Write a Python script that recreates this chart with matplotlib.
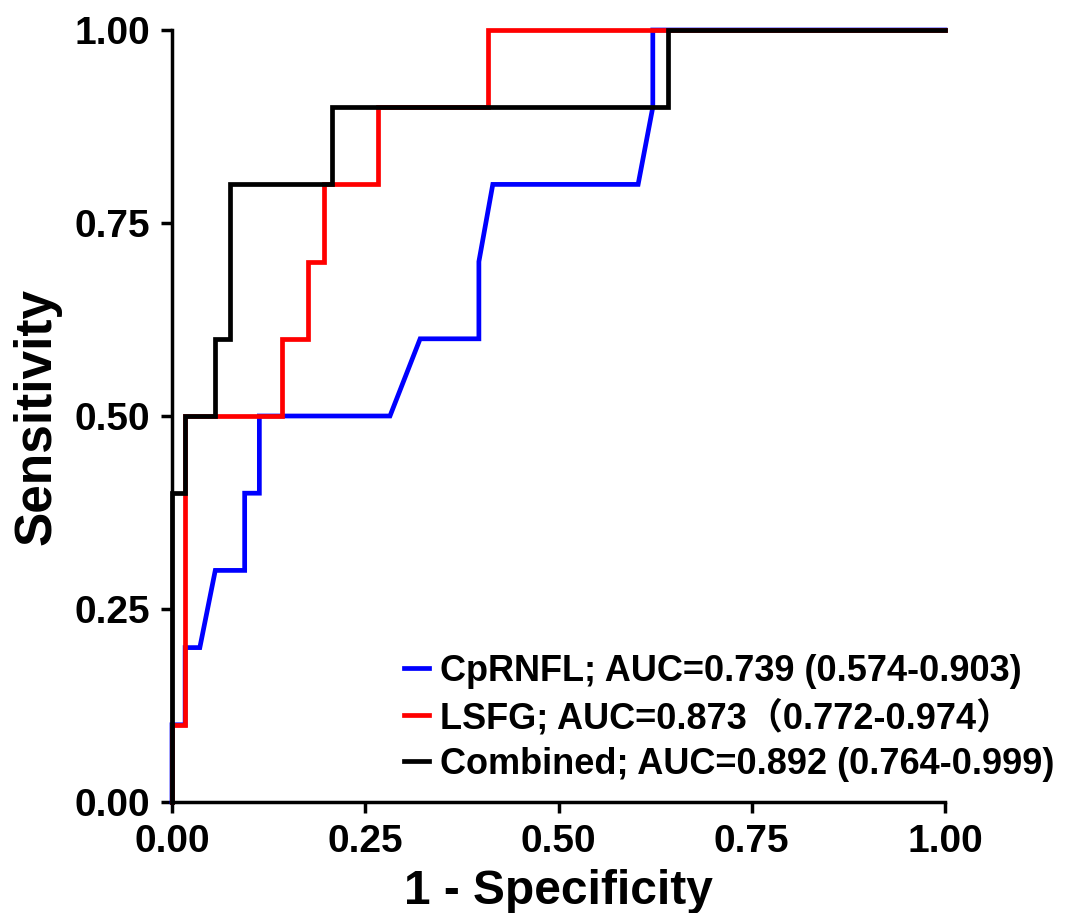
import matplotlib
matplotlib.use("Agg")
import matplotlib.pyplot as plt

plt.rcParams['font.family'] = ['Liberation Sans', 'Noto Sans CJK SC', 'DejaVu Sans']
plt.rcParams['font.weight'] = 'bold'

# ROC curve points (1 - specificity, sensitivity)
cprnfl_fpr = [0, 0, 0.017, 0.017, 0.036, 0.056, 0.094, 0.094, 0.113, 0.113,
              0.282, 0.321, 0.397, 0.397, 0.415, 0.603, 0.622, 0.622, 1.0]
cprnfl_tpr = [0, 0.1, 0.1, 0.2, 0.2, 0.3, 0.3, 0.4, 0.4, 0.5,
              0.5, 0.6, 0.6, 0.7, 0.8, 0.8, 0.9, 1.0, 1.0]

lsfg_fpr = [0, 0, 0.017, 0.017, 0.142, 0.142, 0.176, 0.176, 0.196, 0.196,
            0.267, 0.267, 0.409, 0.409, 1.0]
lsfg_tpr = [0, 0.1, 0.1, 0.5, 0.5, 0.6, 0.6, 0.7, 0.7, 0.8,
            0.8, 0.9, 0.9, 1.0, 1.0]

comb_fpr = [0, 0, 0.017, 0.017, 0.056, 0.056, 0.075, 0.075, 0.207, 0.207,
            0.642, 0.642, 1.0]
comb_tpr = [0, 0.4, 0.4, 0.5, 0.5, 0.6, 0.6, 0.8, 0.8, 0.9,
            0.9, 1.0, 1.0]

labels = ['CpRNFL; AUC=0.739 (0.574-0.903)',
          'LSFG; AUC=0.873（0.772-0.974）',
          'Combined; AUC=0.892 (0.764-0.999)']
colors = ['#0000ff', '#ff0000', '#000000']
ticks = [0.0, 0.25, 0.5, 0.75, 1.0]
tick_labels = ['0.00', '0.25', '0.50', '0.75', '1.00']

fig = plt.figure(figsize=(10.75, 9.13), dpi=100)
ax = fig.add_axes([172/1075, 111/913, 773/1075, 772/913])

curves = [(cprnfl_fpr, cprnfl_tpr), (lsfg_fpr, lsfg_tpr), (comb_fpr, comb_tpr)]
for (x, y), c, lab in zip(curves, colors, labels):
    ax.plot(x, y, color=c, lw=3.4, label=lab, clip_on=False, solid_joinstyle='miter')

ax.set_xlim(0, 1)
ax.set_ylim(0, 1)
ax.set_xticks(ticks)
ax.set_xticklabels(tick_labels)
ax.set_yticks(ticks)
ax.set_yticklabels(tick_labels)
ax.tick_params(axis='both', direction='out', length=8, width=2.5,
               labelsize=28, pad=8)
for s in ['top', 'right']:
    ax.spines[s].set_visible(False)
for s in ['left', 'bottom']:
    ax.spines[s].set_linewidth(2.5)

ax.set_xlabel('1 - Specificity', fontsize=34.5, fontweight='bold', labelpad=6)
ax.set_ylabel('Sensitivity', fontsize=37, fontweight='bold', labelpad=9)

leg = ax.legend(loc='lower left', bbox_to_anchor=(0.30, 0.026), frameon=False,
                fontsize=26, handlelength=0.7, handletextpad=0.3,
                labelspacing=0.3, borderpad=0, borderaxespad=0)
for t in leg.get_texts():
    t.set_fontweight('bold')

fig.savefig('out.png', dpi=100)
